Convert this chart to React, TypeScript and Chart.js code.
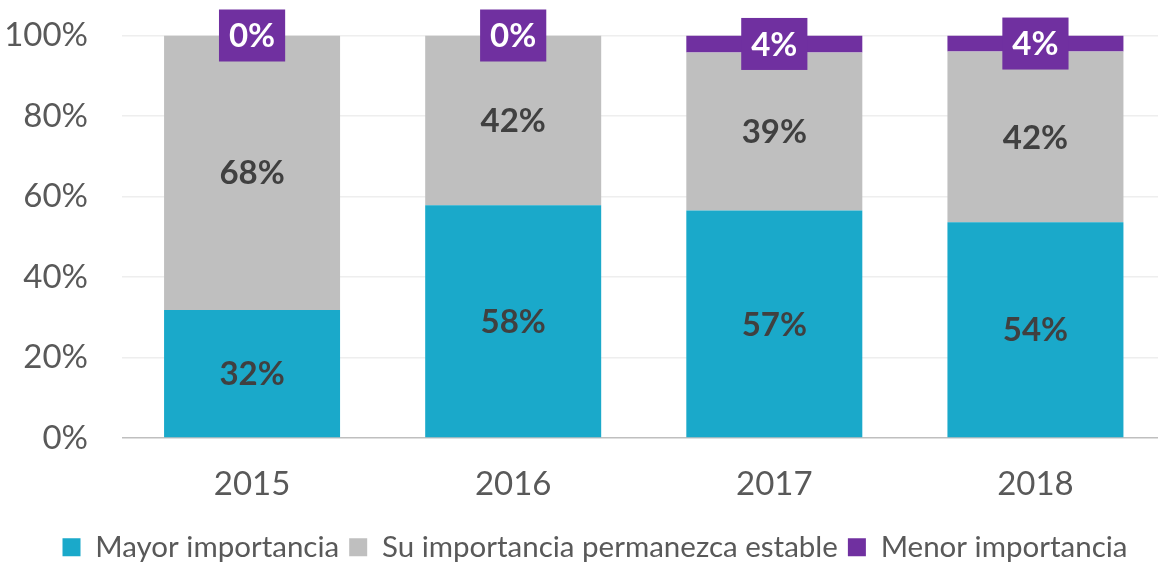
import { useEffect, useRef } from "react";
import { Chart, registerables } from "chart.js";

Chart.register(...registerables);

const categories = ["2015", "2016", "2017", "2018"];
const mayorImportancia = [31.8, 57.8, 56.5, 53.6];
const importanciaEstable = [68.2, 42.2, 39.3, 42.4];
const menorImportancia = [0, 0, 4.2, 4.0];
const seriesNames = [
  "Mayor importancia",
  "Su importancia permanezca estable",
  "Menor importancia",
];
const seriesColors = ["#1AA9CA", "#BFBFBF", "#7030A0"];
const yTickValues = [0, 20, 40, 60, 80, 100];

const FONT = "Lato, 'Open Sans', sans-serif";

const segmentLabels = {
  id: "segmentLabels",
  afterLayout(chart: any) {
    const lg = chart.legend;
    if (lg) {
      lg.left += 12;
      lg.right += 12;
      lg.top += 8;
      lg.bottom += 8;
    }
  },
  afterDatasetsDraw(chart: any) {
    const ctx = chart.ctx;
    chart.data.datasets.forEach((ds: any, di: number) => {
      const meta = chart.getDatasetMeta(di);
      meta.data.forEach((el: any, i: number) => {
        const v = ds.data[i] as number;
        const { x, y, base } = el.getProps(["x", "y", "base"], true);
        const cy = (y + base) / 2;
        const text = Math.round(v) + "%";
        ctx.save();
        ctx.font = `bold 33px ${FONT}`;
        ctx.textAlign = "center";
        ctx.textBaseline = "middle";
        if (di === 2) {
          const w = ctx.measureText(text).width + 20;
          ctx.fillStyle = "#7030A0";
          ctx.fillRect(x - w / 2, cy - 26, w, 52);
          ctx.fillStyle = "#FFFFFF";
        } else {
          ctx.fillStyle = "#404040";
        }
        ctx.fillText(text, x, cy + 1);
        ctx.restore();
      });
    });
  },
};

export default function App() {
  const ref = useRef<HTMLCanvasElement | null>(null);

  useEffect(() => {
    if (!ref.current) return;
    const chart = new Chart(ref.current, {
      type: "bar",
      data: {
        labels: categories,
        datasets: [
          { label: seriesNames[0], data: mayorImportancia, backgroundColor: seriesColors[0] },
          { label: seriesNames[1], data: importanciaEstable, backgroundColor: seriesColors[1] },
          { label: seriesNames[2], data: menorImportancia, backgroundColor: seriesColors[2] },
        ],
      },
      options: {
        responsive: false,
        animation: false,
        devicePixelRatio: 1,
        layout: { padding: { left: 0, top: 35.5, right: 0, bottom: 0 } },
        datasets: {
          bar: { barPercentage: 0.674, categoryPercentage: 1, borderWidth: 0 },
        },
        scales: {
          x: {
            stacked: true,
            grid: { display: false },
            border: { display: false },
            ticks: {
              color: "#595959",
              font: { family: FONT, size: 33 },
              padding: 18.5,
            },
            afterFit(scale: any) {
              scale.height = 76.5;
            },
          },
          y: {
            stacked: true,
            min: 0,
            max: 100,
            afterBuildTicks(scale: any) {
              scale.ticks = yTickValues.map((v) => ({ value: v }));
            },
            grid: {
              drawTicks: false,
              lineWidth: 1.5,
              color: (c: any) => (c.tick && c.tick.value === 0 ? "#BFBFBF" : "#EEEEEE"),
            },
            border: { display: false },
            ticks: {
              color: "#595959",
              font: { family: FONT, size: 33 },
              padding: 33.5,
              callback: (v: any) => v + "%",
            },
            afterFit(scale: any) {
              scale.width = 121.5;
              scale.paddingTop = 0;
              scale.paddingBottom = 0;
            },
          },
        },
        plugins: {
          legend: {
            position: "bottom",
            labels: {
              boxWidth: 18,
              boxHeight: 18,
              padding: 10,
              color: "#595959",
              font: { family: FONT, size: 29.5 },
            },
          },
          tooltip: { enabled: false },
        },
      },
      plugins: [segmentLabels],
    });
    return () => chart.destroy();
  }, []);

  return (
    <div style={{ position: "fixed", left: 0, top: 0, width: 1166, height: 564, background: "#fff" }}>
      <canvas ref={ref} width={1166} height={564} style={{ width: 1166, height: 564, display: "block" }} />
    </div>
  );
}
